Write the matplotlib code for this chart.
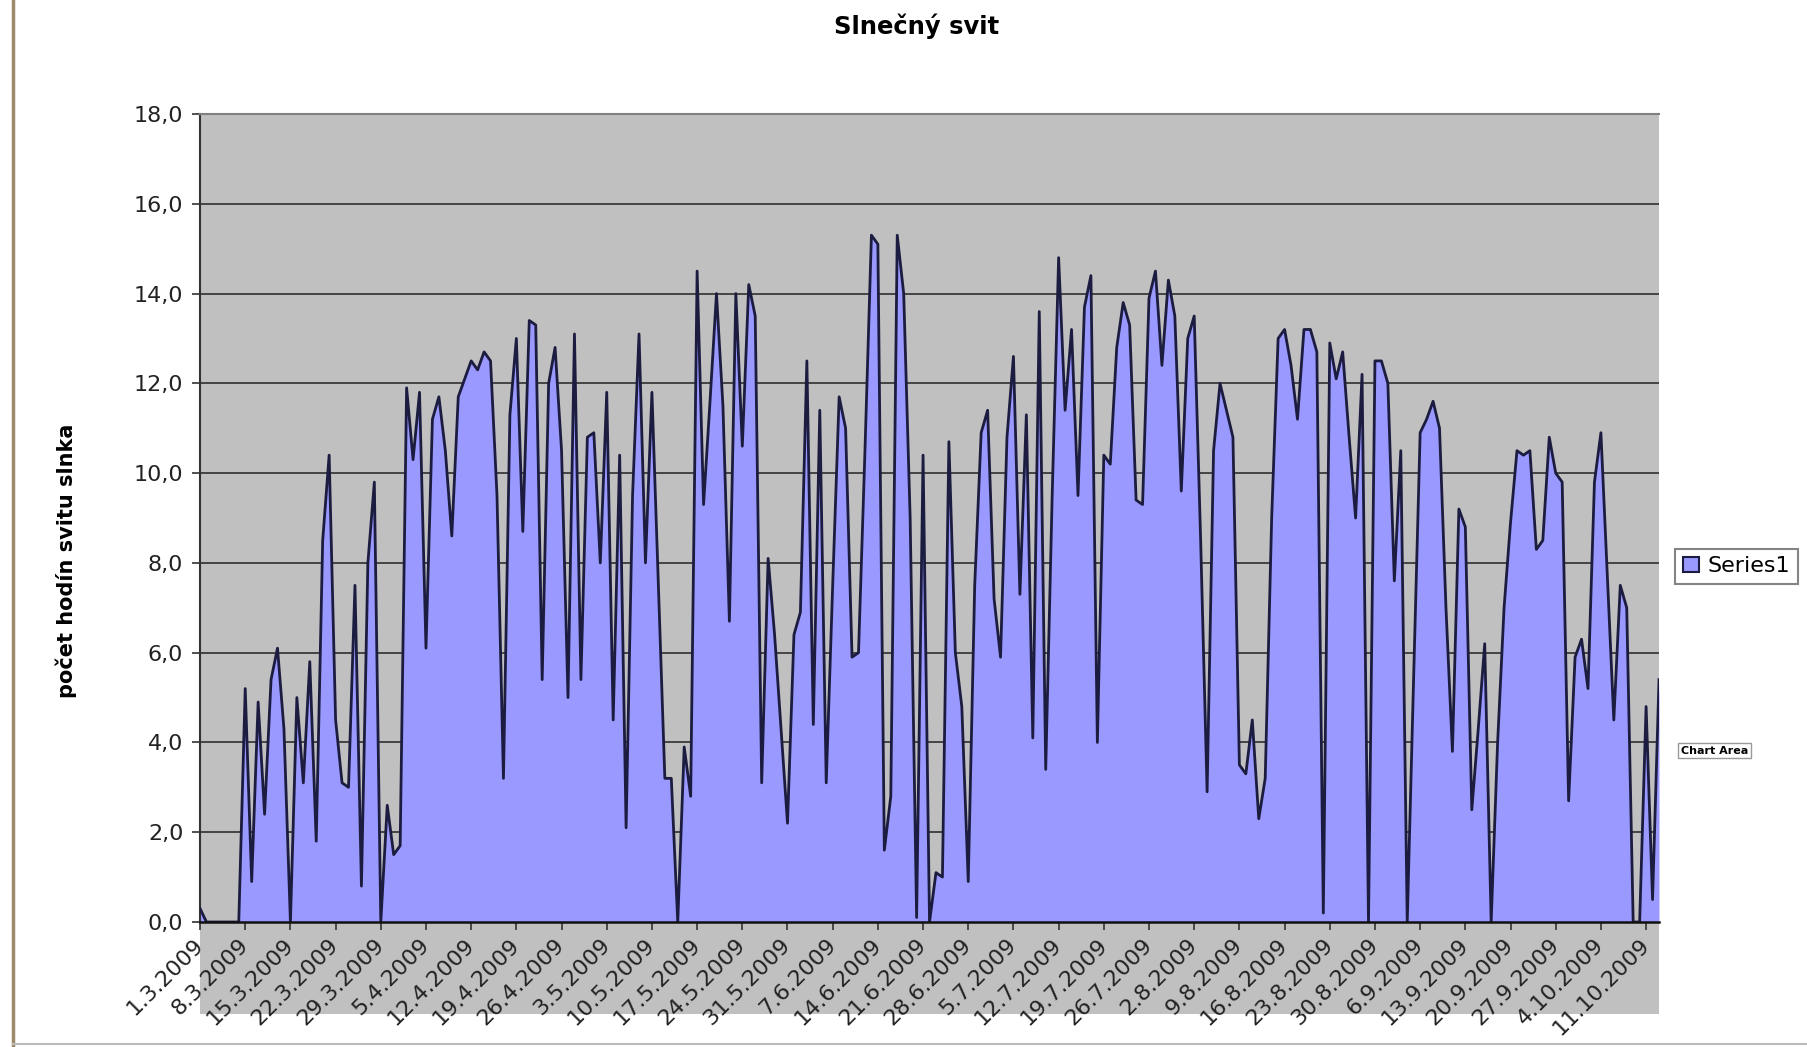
import matplotlib
matplotlib.use("Agg")
import matplotlib.pyplot as plt
import pandas as pd
from matplotlib.patches import Rectangle, Patch
from matplotlib.lines import Line2D
from matplotlib.ticker import FuncFormatter

# Daily sunshine hours, 1.3.2009 - 13.10.2009
sunshine = [
    0.3, 0.0, 0.0, 0.0, 0.0, 0.0, 0.0, 5.2, 0.9, 4.9,      # 1.3 - 10.3
    2.4, 5.4, 6.1, 4.3, 0.0, 5.0, 3.1, 5.8, 1.8, 8.5,      # 11.3 - 20.3
    10.4, 4.5, 3.1, 3.0, 7.5, 0.8, 8.0, 9.8, 0.0, 2.6,     # 21.3 - 30.3
    1.5, 1.7, 11.9, 10.3, 11.8, 6.1, 11.2, 11.7, 10.5, 8.6,
    11.7, 12.1, 12.5, 12.3, 12.7, 12.5, 9.5, 3.2, 11.3, 13.0,
    8.7, 13.4, 13.3, 5.4, 12.0, 12.8, 10.5, 5.0, 13.1, 5.4,
    10.8, 10.9, 8.0, 11.8, 4.5, 10.4, 2.1, 9.5, 13.1, 8.0,
    11.8, 7.5, 3.2, 3.2, 0.0, 3.9, 2.8, 14.5, 9.3, 11.6,
    14.0, 11.5, 6.7, 14.0, 10.6, 14.2, 13.5, 3.1, 8.1, 6.4,
    4.3, 2.2, 6.4, 6.9, 12.5, 4.4, 11.4, 3.1, 7.5, 11.7,
    11.0, 5.9, 6.0, 10.5, 15.3, 15.1, 1.6, 2.8, 15.3, 14.0,
    9.0, 0.1, 10.4, 0.0, 1.1, 1.0, 10.7, 6.0, 4.8, 0.9,
    7.5, 10.9, 11.4, 7.2, 5.9, 10.8, 12.6, 7.3, 11.3, 4.1,
    13.6, 3.4, 9.5, 14.8, 11.4, 13.2, 9.5, 13.7, 14.4, 4.0,
    10.4, 10.2, 12.8, 13.8, 13.3, 9.4, 9.3, 13.9, 14.5, 12.4,
    14.3, 13.5, 9.6, 13.0, 13.5, 8.5, 2.9, 10.5, 12.0, 11.4,
    10.8, 3.5, 3.3, 4.5, 2.3, 3.2, 9.0, 13.0, 13.2, 12.4,
    11.2, 13.2, 13.2, 12.7, 0.2, 12.9, 12.1, 12.7, 10.8, 9.0,
    12.2, 0.0, 12.5, 12.5, 12.0, 7.6, 10.5, 0.0, 5.5, 10.9,
    11.2, 11.6, 11.0, 7.0, 3.8, 9.2, 8.8, 2.5, 4.3, 6.2,
    0.0, 4.0, 7.0, 8.9, 10.5, 10.4, 10.5, 8.3, 8.5, 10.8,
    10.0, 9.8, 2.7, 5.9, 6.3, 5.2, 9.8, 10.9, 7.7, 4.5,
    7.5, 7.0, 0.0, 0.0, 4.8, 0.5, 5.4,
]
dates = pd.date_range("2009-03-01", periods=len(sunshine), freq="D")
tick_step = 7
tick_labels = [f"{d.day}.{d.month}.{d.year}" for d in dates[::tick_step]]

title = "Slnečný svit"
ylabel = "počet hodín svitu slnka"
series_name = "Series1"

fill_color = "#9999FF"
line_color = "#1c1c40"
plot_gray = "#C0C0C0"

fig = plt.figure(figsize=(18.07, 10.47), dpi=100)
fig.patch.set_facecolor("white")

# gray plot area (Excel draws it under the category labels too)
fig.add_artist(Rectangle((0.1107, 0.0315), 0.8074, 0.8596,
                         transform=fig.transFigure, facecolor=plot_gray,
                         edgecolor="none", zorder=-5))

ax = fig.add_axes([0.1107, 0.1194, 0.8074, 0.7717])
ax.set_zorder(2)
ax.set_facecolor(plot_gray)

x = list(range(len(sunshine)))
ax.fill_between(x, sunshine, 0, color=fill_color, lw=0, zorder=2)
ax.plot(x, sunshine, color=line_color, lw=2.0, zorder=3)

ax.set_xlim(0, len(sunshine) - 1)
ax.set_ylim(0, 18)
ax.set_yticks(range(0, 19, 2))
ax.yaxis.set_major_formatter(FuncFormatter(lambda v, p: f"{v:.1f}".replace(".", ",")))
ax.yaxis.grid(True, color="#3a3a3a", lw=1.3)
ax.set_axisbelow(True)

ax.set_xticks(x[::tick_step])
ax.set_xticklabels(tick_labels, rotation=45, ha="right", va="center",
                   rotation_mode="anchor", fontsize=16, color="#222222")
ax.tick_params(axis="x", direction="out", length=6, width=1.2, pad=8, color="#333333")
ax.tick_params(axis="y", direction="out", length=6, width=1.2, pad=6,
               labelsize=16, labelcolor="#222222", color="#333333")

ax.spines["right"].set_visible(False)
ax.spines["top"].set_color("#808080")
ax.spines["top"].set_linewidth(1.5)
ax.spines["left"].set_color("#333333")
ax.spines["left"].set_linewidth(1.5)
ax.spines["bottom"].set_color("#111111")
ax.spines["bottom"].set_linewidth(1.8)
ax.spines["bottom"].set_zorder(4)

fig.text(0.507, 0.975, title, ha="center", va="center", fontsize=17.5, fontweight="bold")
fig.text(0.0365, 0.464, ylabel, ha="center", va="center", rotation=90,
         fontsize=15, fontweight="bold")

leg = fig.legend(handles=[Patch(facecolor=fill_color, edgecolor=line_color, lw=1.5, label=series_name)],
                 loc="center", bbox_to_anchor=(0.961, 0.459), fontsize=16, frameon=True,
                 fancybox=False, edgecolor="#666666", handlelength=0.7, handleheight=0.7,
                 handletextpad=0.4, borderpad=0.35, borderaxespad=0)
leg.get_frame().set_linewidth(1.5)

fig.text(0.949, 0.283, "Chart Area", ha="center", va="center", fontsize=8, fontweight="bold",
         bbox=dict(facecolor="white", edgecolor="#999999", boxstyle="square,pad=0.25"))

# window frame edges from the screenshot
fig.add_artist(Line2D([0.007, 0.007], [0.0, 1.0], transform=fig.transFigure,
                      color="#9c8a6a", lw=2.5))
fig.add_artist(Line2D([0.007, 1.0], [0.003, 0.003], transform=fig.transFigure,
                      color="#bbbbbb", lw=1.5))

fig.savefig("out.png", dpi=100)
